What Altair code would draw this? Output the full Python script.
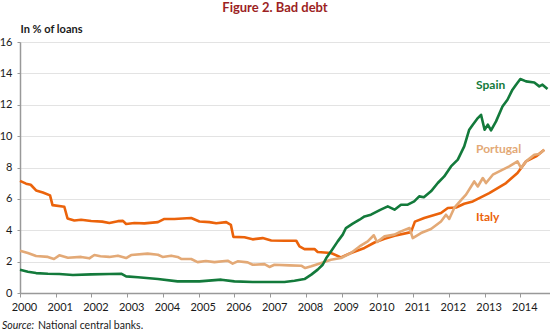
import altair as alt
import pandas as pd

# ---- data ----
italy_year = [2000.00, 2000.17, 2000.30, 2000.45, 2000.64, 2000.84, 2000.91, 2001.24, 2001.33,
              2001.52, 2001.71, 2001.99, 2002.30, 2002.50, 2002.74, 2002.88, 2002.97, 2003.20,
              2003.48, 2003.86, 2004.04, 2004.32, 2004.55, 2004.79, 2005.02, 2005.30, 2005.49,
              2005.77, 2005.90, 2005.97, 2006.28, 2006.51, 2006.79, 2007.03, 2007.40, 2007.73,
              2007.82, 2007.96, 2008.24, 2008.33, 2008.70, 2008.98, 2009.26, 2009.64, 2009.92,
              2010.20, 2010.48, 2010.94, 2011.05, 2011.31, 2011.78, 2011.97, 2012.20, 2012.43,
              2012.67, 2013.13, 2013.60, 2013.92, 2014.16, 2014.44, 2014.67]
italy_val = [7.15, 6.97, 6.90, 6.54, 6.41, 6.22, 5.60, 5.50, 4.75,
             4.62, 4.67, 4.59, 4.55, 4.46, 4.58, 4.60, 4.40, 4.46,
             4.44, 4.52, 4.72, 4.72, 4.75, 4.78, 4.56, 4.52, 4.45,
             4.52, 4.35, 3.58, 3.55, 3.42, 3.50, 3.35, 3.33, 3.33,
             2.97, 2.80, 2.80, 2.61, 2.55, 2.27, 2.55, 2.87, 3.22,
             3.45, 3.65, 3.88, 4.55, 4.78, 5.10, 5.42, 5.45, 5.69,
             5.84, 6.37, 7.01, 7.65, 8.39, 8.71, 9.13]

portugal_year = [2000.00, 2000.22, 2000.45, 2000.78, 2000.95, 2001.10, 2001.34, 2001.71, 2001.94,
                 2002.08, 2002.25, 2002.50, 2002.74, 2002.97, 2003.11, 2003.57, 2003.86, 2003.99,
                 2004.23, 2004.41, 2004.51, 2004.79, 2004.97, 2005.20, 2005.44, 2005.81, 2005.95,
                 2006.09, 2006.37, 2006.51, 2006.84, 2006.98, 2007.12, 2007.54, 2007.87, 2007.98,
                 2008.15, 2008.43, 2008.70, 2008.98, 2009.26, 2009.50, 2009.73, 2009.90, 2009.99,
                 2010.20, 2010.48, 2010.66, 2010.90, 2010.99, 2011.22, 2011.50, 2011.78, 2011.92,
                 2012.01, 2012.15, 2012.39, 2012.48, 2012.71, 2012.81, 2012.95, 2013.04, 2013.23,
                 2013.41, 2013.69, 2013.92, 2014.02, 2014.16, 2014.39, 2014.53, 2014.67]
portugal_val = [2.70, 2.55, 2.36, 2.30, 2.17, 2.40, 2.25, 2.30, 2.21,
                2.42, 2.34, 2.30, 2.38, 2.23, 2.42, 2.51, 2.44, 2.30,
                2.38, 2.30, 2.17, 2.17, 1.97, 2.04, 1.97, 2.06, 1.87,
                2.02, 1.95, 1.80, 1.84, 1.66, 1.80, 1.76, 1.74, 1.59,
                1.70, 1.91, 2.12, 2.23, 2.55, 2.97, 3.29, 3.68, 3.25,
                3.61, 3.72, 3.93, 4.14, 3.50, 3.82, 4.08, 4.56, 4.99,
                4.72, 5.42, 6.05, 6.27, 7.11, 6.79, 7.33, 7.01, 7.54,
                7.75, 8.07, 8.39, 7.97, 8.39, 8.81, 8.86, 9.13]

spain_year = [2000.00, 2000.22, 2000.45, 2000.78, 2001.10, 2001.48, 2001.99, 2002.50, 2002.83,
              2002.97, 2003.30, 2003.86, 2004.41, 2005.02, 2005.63, 2006.00, 2006.51, 2007.00,
              2007.40, 2007.68, 2007.96, 2008.15, 2008.33, 2008.47, 2008.57, 2008.70, 2008.89,
              2009.03, 2009.12, 2009.31, 2009.50, 2009.64, 2009.82, 2010.08, 2010.29, 2010.48,
              2010.66, 2010.85, 2011.03, 2011.17, 2011.30, 2011.50, 2011.69, 2011.87, 2012.06,
              2012.25, 2012.43, 2012.57, 2012.67, 2012.81, 2012.90, 2013.00, 2013.09, 2013.18,
              2013.32, 2013.50, 2013.64, 2013.78, 2013.88, 2014.00, 2014.16, 2014.39, 2014.53,
              2014.62, 2014.76]
spain_val = [1.48, 1.36, 1.27, 1.23, 1.21, 1.15, 1.19, 1.21, 1.23,
             1.06, 1.00, 0.89, 0.74, 0.74, 0.85, 0.74, 0.70, 0.70,
             0.70, 0.78, 0.89, 1.17, 1.49, 1.80, 2.23, 2.65, 3.29,
             3.72, 4.14, 4.42, 4.67, 4.88, 4.99, 5.30, 5.52, 5.31,
             5.63, 5.63, 5.84, 6.16, 6.10, 6.48, 7.01, 7.43, 8.07,
             8.50, 9.35, 10.41, 10.73, 11.15, 11.36, 10.41, 10.73, 10.36,
             10.94, 11.89, 12.32, 12.96, 13.28, 13.64, 13.49, 13.42, 13.17,
             13.28, 13.00]

countries = ["Spain", "Portugal", "Italy"]
colors = ["#137a3b", "#e3a976", "#eb630b"]
label_year = [2012.76, 2012.76, 2012.76]
label_val = [13.28, 9.2, 4.84]

x_ticks = list(range(2000, 2015))
y_ticks = list(range(0, 17, 2))

FONT = "Lato"

rows = []
for name, ys, vs in [("Italy", italy_year, italy_val),
                     ("Portugal", portugal_year, portugal_val),
                     ("Spain", spain_year, spain_val)]:
    for t, v in zip(ys, vs):
        rows.append({"country": name, "year": t, "value": v})
df = pd.DataFrame(rows)

labels_df = pd.DataFrame({"country": countries, "year": label_year, "value": label_val})

xscale = alt.Scale(domain=[2000, 2014.83], nice=False, zero=False)
yscale = alt.Scale(domain=[0, 16], nice=False)
cscale = alt.Scale(domain=countries, range=colors)

xaxis = alt.Axis(values=x_ticks, format="d", title=None, grid=False,
                 tickSize=4, tickColor="#999999", domainColor="#999999",
                 domainWidth=1.5, labelOffset=4, labelPadding=4,
                 labelOverlap=False, labelFlush=False, labelBound=False,
                 labelFont=FONT, labelFontSize=11, labelColor="#1a1a1a")
yaxis = alt.Axis(values=y_ticks, title="In % of loans", titleAngle=0,
                 titleAlign="left", titleBaseline="alphabetic",
                 titleX=0, titleY=-10, titleFont=FONT, titleFontSize=11,
                 titleFontWeight="bold", titleColor="#1a1a1a",
                 grid=True, gridColor="#e3e3e3", gridWidth=1,
                 tickSize=3, tickColor="#999999", domainColor="#999999",
                 domainWidth=1.5, labelPadding=5,
                 labelOverlap=False, labelFlush=False, labelBound=False,
                 labelFont=FONT, labelFontSize=11, labelColor="#1a1a1a")

lines = alt.Chart(df).mark_line(strokeWidth=2.6, strokeJoin="round").encode(
    x=alt.X("year:Q", scale=xscale, axis=xaxis),
    y=alt.Y("value:Q", scale=yscale, axis=yaxis),
    color=alt.Color("country:N", scale=cscale, legend=None),
    order=alt.Order("year:Q"),
)

labels = alt.Chart(labels_df).mark_text(align="left", baseline="middle", font=FONT,
                                        fontSize=12, fontWeight="bold").encode(
    x=alt.X("year:Q", scale=xscale, axis=xaxis),
    y=alt.Y("value:Q", scale=yscale, axis=yaxis),
    text="country:N",
    color=alt.Color("country:N", scale=cscale, legend=None),
)

title = alt.Chart(pd.DataFrame({"t": ["Figure 2. Bad debt"]})).mark_text(
    align="center", baseline="alphabetic", font=FONT, fontSize=13, fontWeight="bold",
    color="#9c1f24").encode(x=alt.value(255), y=alt.value(-30), text="t:N")

src1 = alt.Chart(pd.DataFrame({"t": ["Source:"]})).mark_text(
    align="left", baseline="alphabetic", font=FONT, fontSize=10.5, fontStyle="italic",
    color="#1a1a1a").encode(x=alt.value(-18), y=alt.value(287), text="t:N")
src2 = alt.Chart(pd.DataFrame({"t": ["National central banks."]})).mark_text(
    align="left", baseline="alphabetic", font=FONT, fontSize=10.5,
    color="#1a1a1a").encode(x=alt.value(18), y=alt.value(287), text="t:N")

chart = alt.layer(lines, labels, title, src1, src2).properties(
    width=530, height=251,
    autosize=alt.AutoSizeParams(type="none"),
    padding={"left": 20, "top": 42, "right": 0, "bottom": 43},
).configure_view(fill="#f4f4f4", stroke=None).configure(background="white")

chart.save("out.html", embed_options={"renderer": "svg", "actions": False})
